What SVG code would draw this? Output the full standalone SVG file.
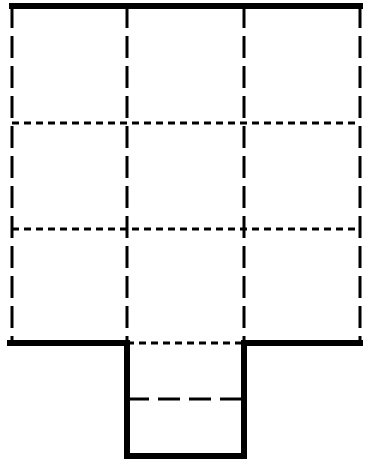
<svg xmlns="http://www.w3.org/2000/svg" width="370" height="462" viewBox="0 0 370 462">
<style>
.thick{stroke:#000;stroke-width:6;fill:none;stroke-linecap:square;stroke-linejoin:miter}
.vd{stroke:#000;stroke-width:3;fill:none;stroke-dasharray:22 8}
.hd{stroke:#000;stroke-width:3;fill:none;stroke-dasharray:7 5}
.ld{stroke:#000;stroke-width:3;fill:none;stroke-dasharray:22 9}
</style>
<rect width="370" height="462" fill="#fff"/>
<g id="dashed">
<line class="vd" x1="12" y1="6" x2="12" y2="343"/>
<line class="vd" x1="127" y1="6" x2="127" y2="343"/>
<line class="vd" x1="244" y1="6" x2="244" y2="343"/>
<line class="vd" x1="360" y1="6" x2="360" y2="343"/>
<line class="hd" x1="12" y1="123" x2="360" y2="123"/>
<line class="hd" x1="12" y1="229" x2="360" y2="229"/>
<line class="hd" x1="127" y1="343" x2="244" y2="343"/>
<line class="ld" x1="127" y1="399" x2="244" y2="399"/>
</g>
<g id="outline">
<line class="thick" x1="12" y1="6" x2="360" y2="6"/>
<polyline class="thick" points="10,343 127,343 127,456 244,456 244,343 360,343"/>
</g>
</svg>
